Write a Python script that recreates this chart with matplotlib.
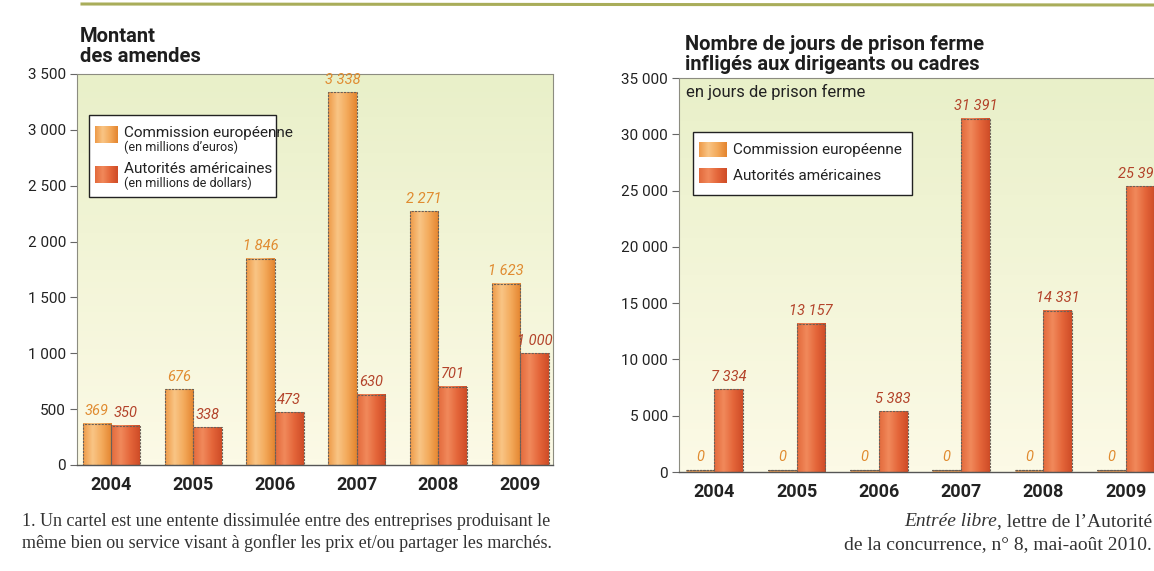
import numpy as np
import matplotlib
matplotlib.use("Agg")
import matplotlib.pyplot as plt
from matplotlib.patches import Rectangle
from matplotlib.lines import Line2D
from matplotlib.colors import LinearSegmentedColormap

plt.rcParams['font.family'] = ['Roboto', 'DejaVu Sans']

# data
years = ["2004", "2005", "2006", "2007", "2008", "2009"]
eu_fines = [369, 676, 1846, 3338, 2271, 1623]
us_fines = [350, 338, 473, 630, 701, 1000]
eu_days = [0, 0, 0, 0, 0, 0]
us_days = [7334, 13157, 5383, 31391, 14331, 25396]
fines_ticks = [0, 500, 1000, 1500, 2000, 2500, 3000, 3500]
days_ticks = [0, 5000, 10000, 15000, 20000, 25000, 30000, 35000]

W, H = 1154, 571
fig = plt.figure(figsize=(W / 100, H / 100), dpi=100)
fig.patch.set_facecolor("white")


def fx(x):
    return x / W


def fy(y):
    return 1 - y / H


def fmt(v):
    return "{:,}".format(v).replace(",", " ")


orange_cm = LinearSegmentedColormap.from_list(
    "o", ["#ee9a48", "#f9c585", "#f3a95a", "#e4852f"])
red_cm = LinearSegmentedColormap.from_list(
    "r", ["#e36a3c", "#f1895b", "#e4663a", "#cf4c27"])
bg_cm = LinearSegmentedColormap.from_list("bg", ["#fcfae6", "#f3f5d8", "#e9f0c9"])
grad = np.linspace(0, 1, 64).reshape(1, -1)

ORANGE_TXT = "#e08b30"
RED_TXT = "#b3432a"
BW = 0.35


def bars(ax, xs, vals, cmap):
    for x0, v in zip(xs, vals):
        if v > 0:
            ax.imshow(grad, cmap=cmap, extent=[x0, x0 + BW, 0, v],
                      aspect="auto", zorder=2, interpolation="bicubic")
    ax.bar(xs, vals, width=BW, align="edge", facecolor="none",
           edgecolor="#6a6058", linewidth=0.8, linestyle=(0, (2, 1)), zorder=3)


def setup(ax, ticks, ylim, xlim):
    ax.imshow(np.linspace(0, 1, 64).reshape(-1, 1), cmap=bg_cm, extent=[0, 1, 0, 1],
              transform=ax.transAxes, aspect="auto", origin="lower", zorder=0)
    for s in ["left", "top", "right"]:
        ax.spines[s].set_color("#8c8c80")
        ax.spines[s].set_linewidth(0.8)
        ax.spines[s].set_linestyle((0, (1.5, 1)))
    ax.spines["bottom"].set_color("#555555")
    ax.spines["bottom"].set_linewidth(1.0)
    ax.set_yticks(ticks)
    ax.set_yticklabels([fmt(t) for t in ticks], fontsize=11, color="#222222")
    ax.tick_params(axis="y", length=5, width=0.8, color="#666666", pad=3)
    ax.set_xticks(np.arange(len(years)))
    ax.set_xticklabels(years, fontsize=13, fontweight="bold", color="#222222")
    ax.tick_params(axis="x", length=0, pad=8)
    ax.set_xlim(*xlim)
    ax.set_ylim(*ylim)


idx = np.arange(len(years))

# ---- left chart: fines
ax1 = fig.add_axes([fx(77), fy(465), (553 - 77) / W, (465 - 74) / H])
bars(ax1, idx - BW, eu_fines, orange_cm)
bars(ax1, idx, us_fines, red_cm)
setup(ax1, fines_ticks, (0, 3500), (-0.42, 5.40))
for i, v in enumerate(eu_fines):
    ax1.annotate(fmt(v), (i - BW / 2, v), xytext=(0, 4), textcoords="offset points",
                 ha="center", va="bottom", fontsize=10.5, style="italic",
                 color=ORANGE_TXT, zorder=5)
for i, v in enumerate(us_fines):
    ax1.annotate(fmt(v), (i + BW / 2, v), xytext=(0, 4), textcoords="offset points",
                 ha="center", va="bottom", fontsize=10.5, style="italic",
                 color=RED_TXT, zorder=5)

# ---- right chart: prison days
ax2 = fig.add_axes([fx(679), fy(472), (1165 - 679) / W, (472 - 78) / H])
bars(ax2, idx - BW, eu_days, orange_cm)
# zero-valued bars still show as a thin sliver
ax2.bar(idx - BW, eu_days, width=BW, align="edge", facecolor="#f0a860",
        edgecolor="#eea055", linewidth=3.5, zorder=2)
ax2.bar(idx - BW, eu_days, width=BW, align="edge", bottom=180, facecolor="none",
        edgecolor="#6a6058", linewidth=0.8, linestyle=(0, (2, 1)), zorder=3)
bars(ax2, idx, us_days, red_cm)
setup(ax2, days_ticks, (0, 35000), (-0.43, 5.48))
for i, v in enumerate(eu_days):
    ax2.annotate(fmt(v), (i - BW / 2, v), xytext=(0, 6), textcoords="offset points",
                 ha="center", va="bottom", fontsize=10.5, style="italic",
                 color=ORANGE_TXT, zorder=5)
for i, v in enumerate(us_days):
    ax2.annotate(fmt(v), (i + BW / 2, v), xytext=(0, 4), textcoords="offset points",
                 ha="center", va="bottom", fontsize=10.5, style="italic",
                 color=RED_TXT, zorder=5)
ax2.text(fx(686), fy(92), "en jours de prison ferme", transform=fig.transFigure,
         fontsize=12, color="#222222", va="center", ha="left", zorder=6)

# ---- titles
for x, y, s in [(80, 42, "Montant"), (80, 62, "des amendes"),
                (685, 50, "Nombre de jours de prison ferme"),
                (685, 70, "infligés aux dirigeants ou cadres")]:
    fig.text(fx(x), fy(y), s, fontsize=14.5, fontweight="bold", color="#1e1e1e",
             va="baseline")

# top rule
fig.add_artist(Line2D([fx(82), fx(1154)], [fy(4), fy(5)], color="#a9ad5a", lw=2.2,
                      transform=fig.transFigure))


# ---- legends (drawn by hand, in pixel positions)
def box(x0, y0, x1, y1):
    fig.add_artist(Rectangle((fx(x0), fy(y1)), fx(x1) - fx(x0), fy(y0) - fy(y1),
                             transform=fig.transFigure, facecolor="white",
                             edgecolor="#222222", lw=1.0, zorder=10))


def patch(x0, y0, x1, y1, cmap):
    pax = fig.add_axes([fx(x0), fy(y1), fx(x1) - fx(x0), fy(y0) - fy(y1)], zorder=11)
    pax.imshow(grad, cmap=cmap, aspect="auto", interpolation="bicubic")
    pax.axis("off")


box(89, 115, 276, 197)
patch(95, 126, 118, 143, orange_cm)
patch(95, 166, 118, 183, red_cm)
fig.text(fx(124), fy(133), "Commission européenne", fontsize=11, va="center",
         color="#222222", zorder=12)
fig.text(fx(124), fy(147), "(en millions d’euros)", fontsize=9, va="center",
         color="#222222", zorder=12)
fig.text(fx(124), fy(169), "Autorités américaines", fontsize=11, va="center",
         color="#222222", zorder=12)
fig.text(fx(124), fy(183), "(en millions de dollars)", fontsize=9, va="center",
         color="#222222", zorder=12)

box(693, 132, 912, 195)
patch(699, 142, 727, 157, orange_cm)
patch(699, 168, 727, 183, red_cm)
fig.text(fx(733), fy(150), "Commission européenne", fontsize=11, va="center",
         color="#222222", zorder=12)
fig.text(fx(733), fy(176), "Autorités américaines", fontsize=11, va="center",
         color="#222222", zorder=12)

# ---- footnotes
serif = ["Liberation Serif", "DejaVu Serif"]
fig.text(fx(22), fy(522), "1. Un cartel est une entente dissimulée entre des entreprises "
         "produisant le", family=serif, fontsize=13, va="center", color="#333333")
fig.text(fx(22), fy(543), "même bien ou service visant à gonfler les prix et/ou partager "
         "les marchés.", family=serif, fontsize=13, va="center", color="#333333")

src = fig.text(fx(1152), fy(522), ", lettre de l’Autorité", family=serif, fontsize=14,
               va="center", ha="right", color="#333333")
fig.canvas.draw()
bb = src.get_window_extent(fig.canvas.get_renderer())
fig.text(bb.x0 / W, fy(522), "Entrée libre", family=serif, fontsize=14, style="italic",
         va="center", ha="right", color="#333333")
fig.text(fx(1152), fy(545), "de la concurrence, n° 8, mai-août 2010.", family=serif,
         fontsize=14, va="center", ha="right", color="#333333")

fig.savefig("out.png", dpi=100)
